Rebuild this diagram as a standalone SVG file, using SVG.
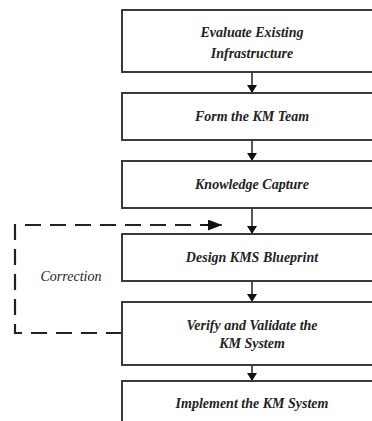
<svg xmlns="http://www.w3.org/2000/svg" width="372" height="421" viewBox="0 0 372 421">
<style>
.box{fill:#fff;stroke:#3a3a3a;stroke-width:2}
.t{font-family:"Liberation Serif","Times New Roman",serif;font-size:14px;font-style:italic;font-weight:bold;fill:#222;text-anchor:middle}
.c{font-family:"Liberation Serif","Times New Roman",serif;font-size:14px;font-style:italic;fill:#222;text-anchor:middle}
.ln{stroke:#111;stroke-width:1.4;fill:none}
.dash{stroke:#222;stroke-width:2.2;fill:none;stroke-dasharray:16 9}
</style>
<defs>
<marker id="ah" markerWidth="8" markerHeight="10" refX="8" refY="5" orient="auto" markerUnits="userSpaceOnUse" viewBox="0 0 8 10">
<path d="M0,0 L8,5 L0,10 Z" fill="#111"/>
</marker>
<marker id="ahd" markerWidth="14" markerHeight="11" refX="14" refY="5.5" orient="auto" markerUnits="userSpaceOnUse" viewBox="0 0 14 11">
<path d="M0,0 L14,5.5 L0,11 Z" fill="#111"/>
</marker>
</defs>
<rect width="372" height="421" fill="#fff"/>
<g id="connectors">
<line class="ln" x1="252" y1="72" x2="252" y2="93" marker-end="url(#ah)"/>
<line class="ln" x1="252" y1="140" x2="252" y2="161" marker-end="url(#ah)"/>
<line class="ln" x1="252" y1="208" x2="252" y2="234" marker-end="url(#ah)"/>
<line class="ln" x1="252" y1="281" x2="252" y2="302" marker-end="url(#ah)"/>
<line class="ln" x1="252" y1="365" x2="252" y2="381" marker-end="url(#ah)"/>
<path class="dash" d="M122,333 H15 V225 H208"/>
<line class="ln" x1="203" y1="225" x2="222" y2="225" stroke-width="2" marker-end="url(#ahd)"/>
<text class="c" x="71" y="281">Correction</text>
</g>
<g id="n1"><rect class="box" x="122" y="10" width="262" height="62"/>
<text class="t" x="252" y="37">Evaluate Existing</text><text class="t" x="252" y="58">Infrastructure</text></g>
<g id="n2"><rect class="box" x="122" y="93" width="262" height="47"/>
<text class="t" x="252" y="121">Form the KM Team</text></g>
<g id="n3"><rect class="box" x="122" y="161" width="262" height="47"/>
<text class="t" x="252" y="189">Knowledge Capture</text></g>
<g id="n4"><rect class="box" x="122" y="234" width="262" height="47"/>
<text class="t" x="252" y="262">Design KMS Blueprint</text></g>
<g id="n5"><rect class="box" x="122" y="302" width="262" height="63"/>
<text class="t" x="252" y="330">Verify and Validate the</text><text class="t" x="252" y="348">KM System</text></g>
<g id="n6"><rect class="box" x="122" y="381" width="262" height="60"/>
<text class="t" x="252" y="408">Implement the KM System</text></g>
</svg>
